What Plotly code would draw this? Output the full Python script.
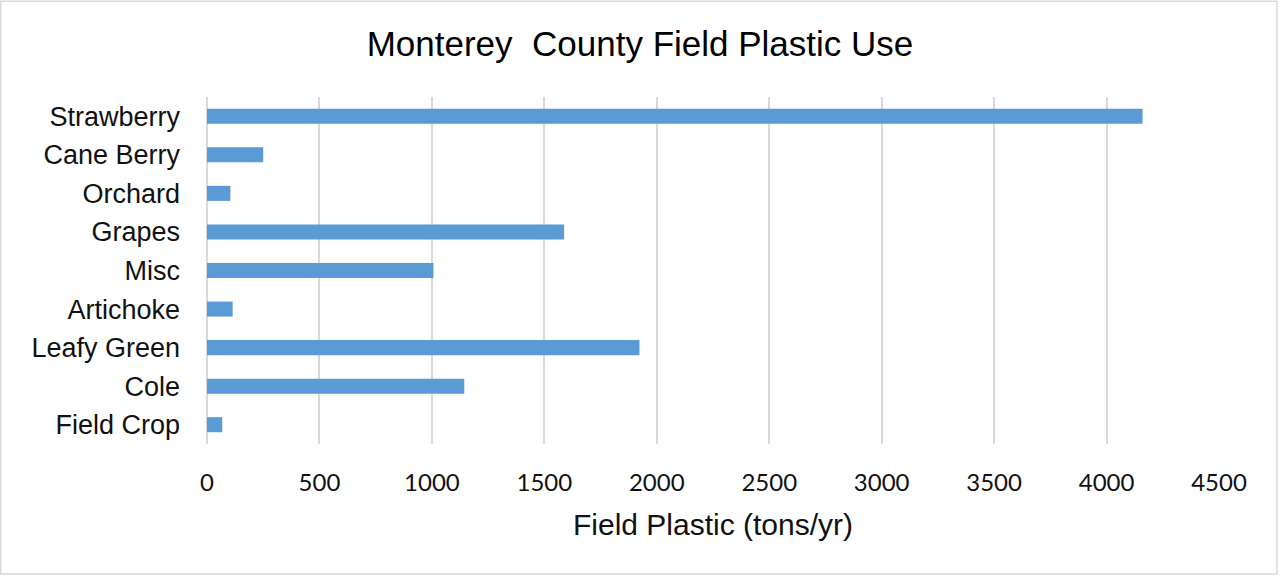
import plotly.graph_objects as go

categories = ["Strawberry", "Cane Berry", "Orchard", "Grapes", "Misc",
              "Artichoke", "Leafy Green", "Cole", "Field Crop"]
values = [4160, 250, 104, 1588, 1007, 114, 1923, 1144, 68]
x_ticks = [0, 500, 1000, 1500, 2000, 2500, 3000, 3500, 4000, 4500]

W, H = 1280, 577
ml, mr, mt, mb = 207, 60.5, 96.5, 132.7

fig = go.Figure(go.Bar(
    x=values, y=categories, orientation="h",
    marker=dict(color="#5b9bd5", line=dict(width=0)),
    width=0.39,
    hoverinfo="x+y",
))

pw = W - ml - mr
ph = H - mt - mb
fig.update_layout(
    width=W, height=H,
    margin=dict(l=ml, r=mr, t=mt, b=mb, autoexpand=False),
    paper_bgcolor="white", plot_bgcolor="white",
    showlegend=False,
    title=dict(text="Monterey  County Field Plastic Use",
               x=0.5, xref="container", xanchor="center",
               y=1 - 44 / H, yref="container", yanchor="middle",
               font=dict(family="Liberation Sans, Arial, sans-serif", size=35, color="#000000")),
    xaxis=dict(range=[0, 4500], tickvals=x_ticks, ticktext=[str(v) for v in x_ticks],
               showgrid=True, gridcolor="#d9d9d9", gridwidth=1.5,
               zeroline=True, zerolinecolor="#d9d9d9", zerolinewidth=1.5,
               showline=False, ticks="", ticklabelstandoff=22,
               tickfont=dict(family="Lato, Carlito, sans-serif", size=24, color="#111111"),
               title=dict(text="Field Plastic (tons/yr)", standoff=18,
                          font=dict(family="Liberation Sans, Arial, sans-serif", size=30, color="#111111")),
               fixedrange=True),
    yaxis=dict(categoryorder="array", categoryarray=categories, autorange="reversed",
               showgrid=False, showline=False, ticks="", ticklabelstandoff=26,
               tickfont=dict(family="Liberation Sans, Arial, sans-serif", size=27, color="#111111"),
               fixedrange=True),
    shapes=[dict(type="rect", xref="paper", yref="paper",
                 x0=(0.5 - ml) / pw, x1=(W - 2.5 - ml) / pw,
                 y0=-(mb - 2.5) / ph,
                 y1=1 + (mt - 0.5) / ph,
                 line=dict(color="#d9d9d9", width=1.5), layer="below")],
)

fig.write_html("out.html", config={"displayModeBar": False},
               post_script="document.body.style.margin='0';")
